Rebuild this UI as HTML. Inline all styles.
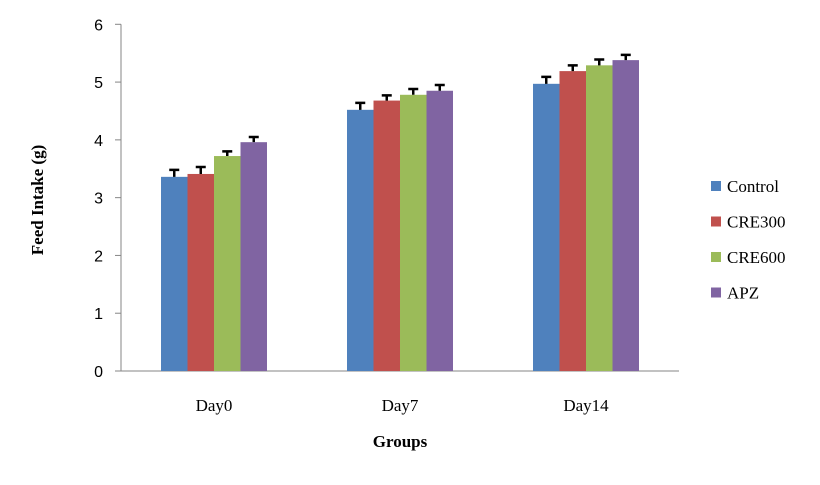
<!DOCTYPE html>
<html><head><meta charset="utf-8"><style>
body{margin:0;background:#fff;}
svg text{font-family:"Liberation Serif",serif;}
svg text.sans{font-family:"Liberation Sans",sans-serif;}
</style></head><body>
<svg width="820" height="480" id="chart">
<g id="plot"></g>
<text x="43" y="200" transform="rotate(-90 43 200)" text-anchor="middle" font-size="17" font-weight="bold">Feed Intake (g)</text>
<text x="400" y="447" text-anchor="middle" font-size="17" font-weight="bold">Groups</text>
<g id="legend"></g>
</svg>
<script>
const categories=["Day0","Day7","Day14"];
const seriesNames=["Control","CRE300","CRE600","APZ"];
const control=[3.36,4.52,4.97];
const cre300=[3.41,4.68,5.19];
const cre600=[3.72,4.78,5.29];
const apz=[3.96,4.85,5.38];
const errControl=[0.12,0.12,0.12];
const errCre300=[0.12,0.09,0.1];
const errCre600=[0.08,0.1,0.1];
const errApz=[0.09,0.1,0.09];
const yTicks=[0,1,2,3,4,5,6];
const colors=["#4f81bd","#c0504d","#9bbb59","#8064a2"];
const NS="http://www.w3.org/2000/svg";
const x0=121,x1=679,y0=371,yTop=24.3,yMax=6;
const y=v=>y0-(v/yMax)*(y0-yTop);
const catW=(x1-x0)/categories.length;
const barW=26.5;
const plot=document.getElementById('plot');
function mk(tag,attrs,parent){const e=document.createElementNS(NS,tag);for(const k in attrs)e.setAttribute(k,attrs[k]);(parent||plot).appendChild(e);return e;}
let ax=mk('line',{x1:x0,y1:yTop,x2:x0,y2:y0,stroke:'#868686','stroke-width':1});


yTicks.forEach(t=>{
 let l=mk('line',{x1:x0-6,y1:y(t),x2:x0,y2:y(t),stroke:'#868686'});
 
 
 let tx=mk('text',{x:x0-18,y:y(t)+6,'text-anchor':'end','font-size':'16','class':'sans'});
 tx.textContent=t;
 
 
});
let xa=mk('line',{x1:x0,y1:y0,x2:x1,y2:y0,stroke:'#868686'});


const all=[control,cre300,cre600,apz];
const errs=[errControl,errCre300,errCre600,errApz];
categories.forEach((c,i)=>{
 const cx=x0+catW*(i+0.5);
 let tx=mk('text',{x:cx,y:y0+40,'text-anchor':'middle','font-size':'17'});
 tx.textContent=c;
 
 
 all.forEach((s,j)=>{
  const bx=cx-2*barW+j*barW;
  let r=mk('rect',{x:bx,y:y(s[i]),width:barW,height:y0-y(s[i]),fill:colors[j]});
  
  
  const mx=bx+barW/2,et=y(s[i]+errs[j][i]);
  let e=mk('path',{d:`M${mx},${y(s[i])}V${et}M${mx-5},${et}H${mx+5}`,stroke:'#000','stroke-width':2.5,fill:'none'});
  
  
 });
});
const lg=document.getElementById('legend');
seriesNames.forEach((n,j)=>{
 const ly=186+j*35.5;
 let r=mk('rect',{x:711,y:ly-5,width:10,height:10,fill:colors[j]},lg);
 
 
 let t=mk('text',{x:727,y:ly+6,'font-size':'17'},lg);
 t.textContent=n;
 
 
});
</script>
</body></html>
